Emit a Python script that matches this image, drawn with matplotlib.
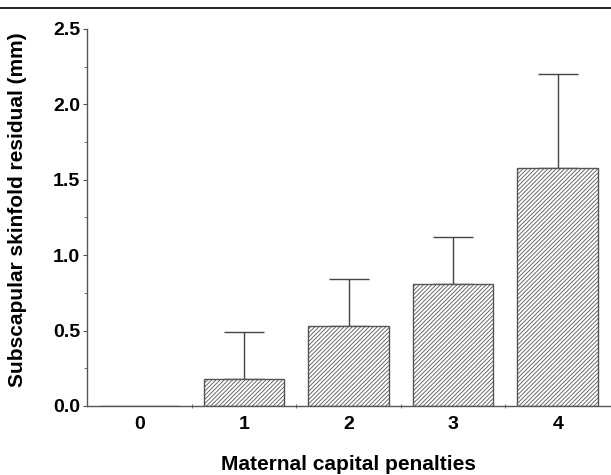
import matplotlib.pyplot as plt
from matplotlib.lines import Line2D
from matplotlib.ticker import MultipleLocator

plt.rcParams['font.family'] = ['Liberation Sans', 'DejaVu Sans']
plt.rcParams['hatch.linewidth'] = 0.6
plt.rcParams['hatch.color'] = '#808080'

# data
penalties = [0, 1, 2, 3, 4]
residual = [0.0, 0.18, 0.53, 0.81, 1.58]
upper_err = [0.0, 0.31, 0.31, 0.31, 0.62]

fig = plt.figure(figsize=(6.11, 4.75), dpi=100)
ax = fig.add_axes([0.1424, 0.1453, 0.856, 0.7937])

axis_col = '#555555'
ax.errorbar(penalties[1:], residual[1:],
            yerr=[[0] * 4, upper_err[1:]],
            fmt='none', ecolor='#444444', elinewidth=1.0,
            capsize=14.4, capthick=1.0, zorder=1)
ax.bar(penalties, residual, width=0.77, color='white', edgecolor='#555555',
       linewidth=1.0, hatch='////////', zorder=2)

ax.set_xlim(-0.5, 4.5)
ax.set_ylim(0, 2.5)
ax.yaxis.set_major_locator(MultipleLocator(0.5))
ax.yaxis.set_minor_locator(MultipleLocator(0.25))
ax.set_yticks([0, 0.5, 1.0, 1.5, 2.0, 2.5])
ax.set_yticklabels(['0.0', '0.5', '1.0', '1.5', '2.0', '2.5'])
ax.set_xticks(penalties)
ax.set_xticks([0.5, 1.5, 2.5, 3.5], minor=True)

for s in ['top', 'right']:
    ax.spines[s].set_visible(False)
for s in ['left', 'bottom']:
    ax.spines[s].set_color(axis_col)
    ax.spines[s].set_linewidth(1.0)

ax.tick_params(axis='y', which='major', length=3, color=axis_col,
               labelsize=14, pad=2)
ax.tick_params(axis='y', which='minor', length=2, color=axis_col)
ax.tick_params(axis='x', which='major', length=0, labelsize=14, pad=7)
ax.tick_params(axis='x', which='minor', length=3, color=axis_col,
               direction='inout')
for lab in ax.get_xticklabels() + ax.get_yticklabels():
    lab.set_fontweight('bold')

ax.set_xlabel('Maternal capital penalties', fontsize=15, fontweight='bold',
              labelpad=16)
ax.set_ylabel('Subscapular skinfold residual (mm)', fontsize=15,
              fontweight='bold', labelpad=10)
ax.yaxis.set_label_coords(-0.115, 0.52)

fig.add_artist(Line2D([0, 1], [0.983, 0.983], transform=fig.transFigure,
                      color='black', linewidth=1.2))

plt.savefig('out.png', dpi=100)
